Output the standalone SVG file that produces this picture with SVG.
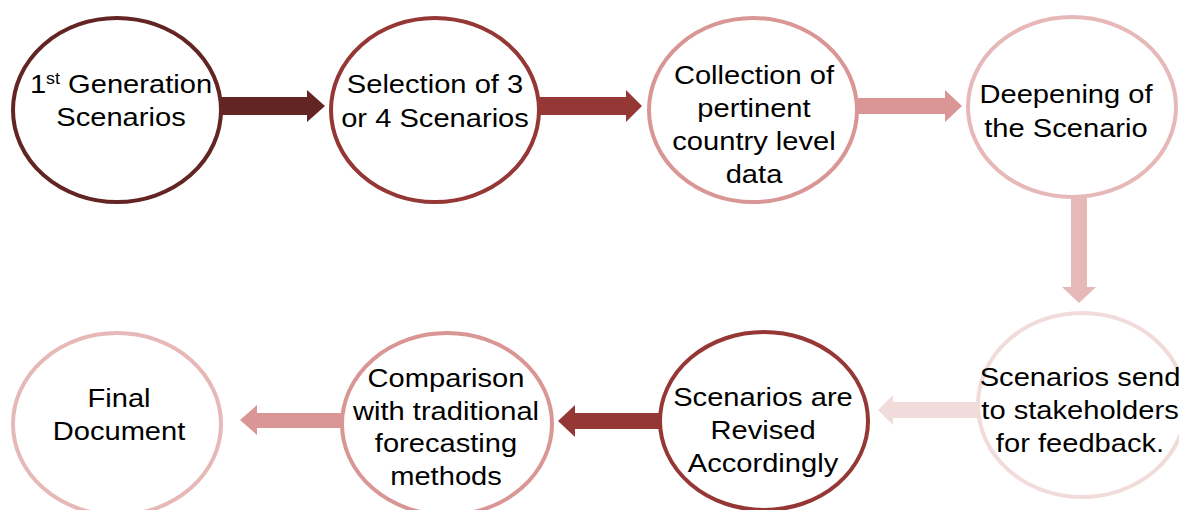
<svg xmlns="http://www.w3.org/2000/svg" width="1179" height="510" viewBox="0 0 1179 510">
<style>
.n{fill:#fff;stroke-width:4}
.t{font-family:"Liberation Sans",Arial,sans-serif;font-size:26px;fill:#000;text-anchor:middle}
.k1{stroke:#632523}.k2{stroke:#953735}.k3{stroke:#d99694}.k4{stroke:#e6b9b8}.k5{stroke:#f2dcdb}
.f1{fill:#632523}.f2{fill:#953735}.f3{fill:#d99694}.f4{fill:#e6b9b8}.f5{fill:#f2dcdb}
</style>
<rect width="1179" height="510" fill="#fff"/>
<g id="connectors">
<polygon class="f1" points="220,97 307,97 307,90 325,106 307,122 307,115 220,115"/>
<polygon class="f2" points="538,97 626,97 626,90 642,106 626,122 626,115 538,115"/>
<polygon class="f3" points="855,98 945,98 945,90 962,106 945,122 945,114 855,114"/>
<polygon class="f4" points="1071,196 1087,196 1087,287 1096,287 1079,303 1062,287 1071,287"/>
<polygon class="f5" points="980,402 893,402 893,395 878,410 893,425 893,418 980,418"/>
<polygon class="f2" points="662,413 575,413 575,405 558,421 575,437 575,429 662,429"/>
<polygon class="f3" points="344,413 257,413 257,405 240,420 257,435 257,428 344,428"/>
</g>
<g id="node1">
<ellipse class="n k1" cx="117" cy="110" rx="104" ry="92"/>
<g transform="translate(121 0) scale(1.12 1)"><text class="t" x="0" y="93">1<tspan font-size="16" dy="-9">st</tspan><tspan dy="9"> Generation</tspan></text><text class="t" x="0" y="126">Scenarios</text></g>
</g>
<g id="node2">
<ellipse class="n k2" cx="435" cy="110" rx="104" ry="92"/>
<g transform="translate(435 0) scale(1.12 1)"><text class="t" x="0" y="93">Selection of 3</text><text class="t" x="0" y="127">or 4 Scenarios</text></g>
</g>
<g id="node3">
<ellipse class="n k3" cx="753" cy="110" rx="104" ry="92"/>
<g transform="translate(754 0) scale(1.12 1)"><text class="t" x="0" y="84">Collection of</text><text class="t" x="0" y="117">pertinent</text><text class="t" x="0" y="150">country level</text><text class="t" x="0" y="183">data</text></g>
</g>
<g id="node4">
<ellipse class="n k4" cx="1072" cy="107" rx="104" ry="90"/>
<g transform="translate(1066 0) scale(1.12 1)"><text class="t" x="0" y="103">Deepening of</text><text class="t" x="0" y="137">the Scenario</text></g>
</g>
<g id="node5">
<ellipse class="n k5" cx="1082" cy="405" rx="104" ry="92"/>
<g transform="translate(1080 0) scale(1.12 1)"><text class="t" x="0" y="386">Scenarios send</text><text class="t" x="0" y="419">to stakeholders</text><text class="t" x="0" y="452">for feedback.</text></g>
</g>
<g id="node6">
<ellipse class="n k2" cx="764" cy="421" rx="104" ry="89"/>
<g transform="translate(763 0) scale(1.12 1)"><text class="t" x="0" y="406">Scenarios are</text><text class="t" x="0" y="439">Revised</text><text class="t" x="0" y="472">Accordingly</text></g>
</g>
<g id="node7">
<ellipse class="n k3" cx="447" cy="424" rx="105" ry="91"/>
<g transform="translate(446 0) scale(1.12 1)"><text class="t" x="0" y="387">Comparison</text><text class="t" x="0" y="420">with traditional</text><text class="t" x="0" y="452">forecasting</text><text class="t" x="0" y="485">methods</text></g>
</g>
<g id="node8">
<ellipse class="n k4" cx="117" cy="424" rx="104" ry="91"/>
<g transform="translate(119 0) scale(1.12 1)"><text class="t" x="0" y="407">Final</text><text class="t" x="0" y="440">Document</text></g>
</g>
</svg>
